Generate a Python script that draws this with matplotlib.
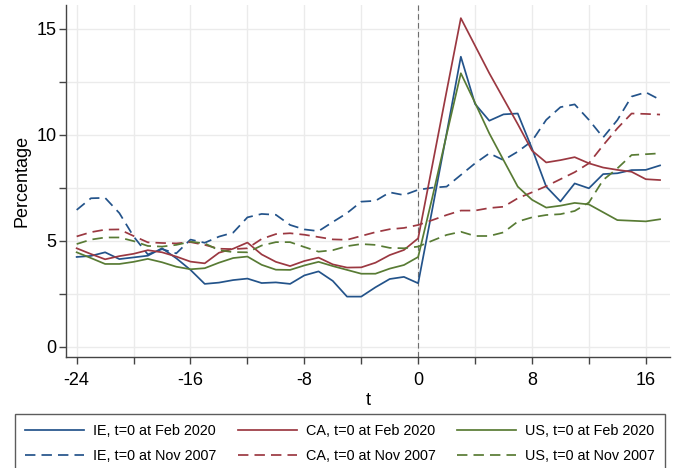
import matplotlib
matplotlib.use("Agg")
import matplotlib.pyplot as plt
import numpy as np

t = list(range(-24, 18))

ie_feb2020 = [4.23, 4.28, 4.45, 4.13, 4.21, 4.29, 4.64, 4.17, 3.62, 2.96,
              3.02, 3.14, 3.21, 3.00, 3.03, 2.96, 3.36, 3.55, 3.10, 2.36,
              2.36, 2.80, 3.19, 3.29, 2.99, 6.50, 10.06, 13.68, 11.45, 10.66,
              10.96, 11.00, 9.35, 7.55, 6.85, 7.70, 7.47, 8.14, 8.18, 8.33,
              8.34, 8.55]
ca_feb2020 = [4.64, 4.37, 4.12, 4.27, 4.38, 4.55, 4.45, 4.25, 4.01, 3.93,
              4.43, 4.62, 4.91, 4.35, 4.00, 3.80, 4.04, 4.20, 3.88, 3.73,
              3.74, 3.96, 4.32, 4.56, 5.11, 8.57, 12.05, 15.50, 14.20, 12.90,
              11.70, 10.50, 9.25, 8.69, 8.80, 8.94, 8.65, 8.45, 8.34, 8.25,
              7.90, 7.86]
us_feb2020 = [4.45, 4.18, 3.90, 3.90, 4.00, 4.14, 3.98, 3.77, 3.65, 3.70,
              3.96, 4.18, 4.25, 3.86, 3.63, 3.62, 3.83, 4.00, 3.80, 3.62,
              3.44, 3.44, 3.68, 3.85, 4.23, 7.05, 10.00, 12.90, 11.50, 10.06,
              8.80, 7.55, 6.93, 6.56, 6.65, 6.78, 6.71, 6.34, 5.97, 5.94,
              5.91, 6.01]
ie_nov2007 = [6.45, 7.00, 7.02, 6.30, 5.20, 4.35, 4.60, 4.40, 5.05, 4.90,
              5.19, 5.38, 6.10, 6.26, 6.22, 5.74, 5.53, 5.45, 5.88, 6.30,
              6.84, 6.88, 7.28, 7.15, 7.40, 7.50, 7.55, 8.10, 8.65, 9.12,
              8.80, 9.20, 9.70, 10.70, 11.30, 11.43, 10.70, 9.87, 10.69, 11.80,
              12.00, 11.65]
ca_nov2007 = [5.20, 5.40, 5.52, 5.53, 5.22, 4.92, 4.89, 4.87, 4.93, 4.80,
              4.62, 4.60, 4.64, 5.08, 5.31, 5.35, 5.28, 5.17, 5.06, 5.04,
              5.22, 5.40, 5.54, 5.60, 5.74, 5.97, 6.21, 6.42, 6.42, 6.54,
              6.60, 7.00, 7.28, 7.57, 7.90, 8.23, 8.65, 9.50, 10.30, 11.00,
              10.98, 10.95]
us_nov2007 = [4.84, 5.05, 5.15, 5.15, 4.98, 4.75, 4.72, 4.80, 4.95, 4.87,
              4.55, 4.46, 4.45, 4.77, 4.93, 4.93, 4.70, 4.48, 4.55, 4.74,
              4.84, 4.80, 4.66, 4.64, 4.72, 5.00, 5.27, 5.42, 5.22, 5.22,
              5.39, 5.90, 6.10, 6.21, 6.25, 6.40, 6.80, 7.86, 8.41, 9.04,
              9.08, 9.12]

labels_feb = ["IE, t=0 at Feb 2020", "CA, t=0 at Feb 2020", "US, t=0 at Feb 2020"]
labels_nov = ["IE, t=0 at Nov 2007", "CA, t=0 at Nov 2007", "US, t=0 at Nov 2007"]
x_ticks = [-24, -16, -8, 0, 8, 16]
x_minor = [-20, -12, -4, 4, 12]
y_ticks = [0, 5, 10, 15]
y_minor = [2.5, 7.5, 12.5]

colors = ["#23538a", "#9b3841", "#587b34"]

plt.rcParams['font.family'] = ['Liberation Sans', 'DejaVu Sans']
plt.rcParams['axes.unicode_minus'] = False

fig = plt.figure(figsize=(6.75, 4.68), dpi=100)
W, H = 675, 468
ax = fig.add_axes([66 / W, 1 - 357 / H, (670 - 66) / W, (357 - 5) / H])

for v in x_ticks + x_minor:
    ax.axvline(v, color="#ebebeb", lw=1.0, zorder=0)
for v in y_ticks + y_minor:
    ax.axhline(v, color="#ebebeb", lw=1.0, zorder=0)

ax.axvline(0, color="#6e6e6e", lw=0.8, dashes=(5, 3), zorder=1)

lw = 1.25
handles = []
feb = [ie_feb2020, ca_feb2020, us_feb2020]
nov = [ie_nov2007, ca_nov2007, us_nov2007]
for i in range(3):
    h1, = ax.plot(t, feb[i], color=colors[i], lw=lw, label=labels_feb[i], zorder=3)
    h2, = ax.plot(t, nov[i], color=colors[i], lw=lw, dashes=(6, 3.5), label=labels_nov[i], zorder=3)
    handles += [h1, h2]

ax.set_xlim(-24.75, 17.7)
ax.set_ylim(-0.49, 16.12)
ax.set_xticks(x_ticks)
ax.set_xticks(x_minor, minor=True)
ax.set_yticks(y_ticks)
ax.set_yticks(y_minor, minor=True)
ax.tick_params(axis='both', which='both', direction='out', length=5, width=1.0, color="#444444")
ax.tick_params(axis='x', which='major', labelsize=13, pad=6)
ax.tick_params(axis='y', which='major', labelsize=13, pad=2)
for s in ['top', 'right']:
    ax.spines[s].set_visible(False)
for s in ['left', 'bottom']:
    ax.spines[s].set_color("#444444")
    ax.spines[s].set_linewidth(1.0)

ax.set_xlabel("t", fontsize=13, labelpad=2)
ax.set_ylabel("Percentage", fontsize=13, labelpad=4)

leg = fig.legend(handles=handles, ncol=3, mode="expand",
                 bbox_to_anchor=(15 / W, 1 - 467 / H, 650 / W, (467 - 414) / H),
                 loc="upper left", fontsize=10.4, frameon=True, fancybox=False,
                 handlelength=4.1, handletextpad=0.6, columnspacing=1.5,
                 labelspacing=0.75, borderpad=0.7, borderaxespad=0.0)
leg.get_frame().set_edgecolor("#333333")
leg.get_frame().set_linewidth(1.0)

fig.savefig("out.png", dpi=100)
